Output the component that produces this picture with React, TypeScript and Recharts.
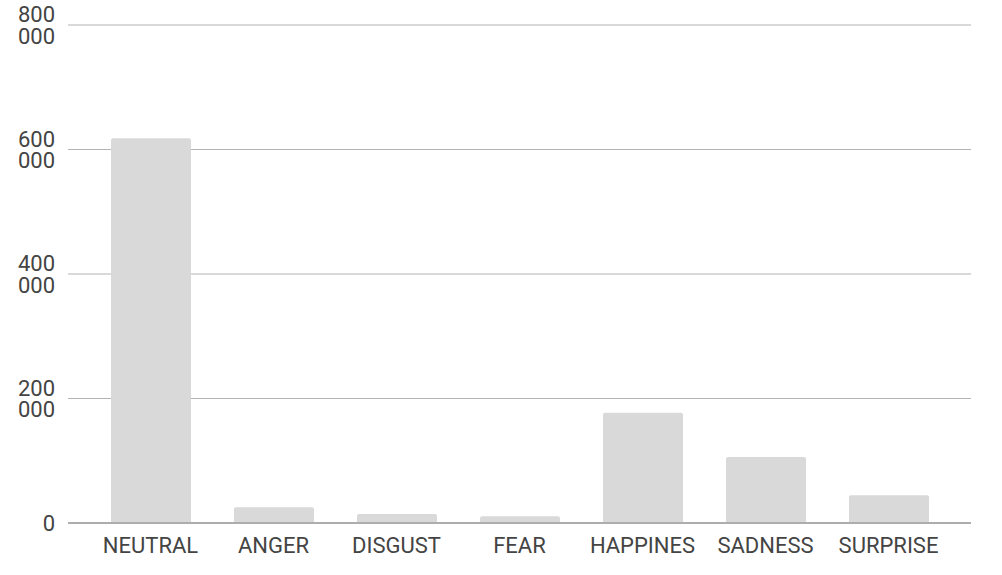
import React from "react";
import { Bar, BarChart, CartesianGrid, XAxis, YAxis } from "recharts";

const emotions = ["NEUTRAL", "ANGER", "DISGUST", "FEAR", "HAPPINES", "SADNESS", "SURPRISE"];
const counts = [618000, 25500, 14500, 11000, 177000, 106000, 44500];
const yTicks = [0, 200000, 400000, 600000, 800000];

const data = emotions.map((e, i) => ({ emotion: e, count: counts[i] }));

const FONT = "Roboto, sans-serif";

// y labels are split on two lines : "800" / "000"
const YTick = (props: any) => {
  const { x, y, payload } = props;
  const v: number = payload.value;
  if (v < 1000) {
    return (
      <text x={x} y={y} dy={8} textAnchor="end" fontSize={22} fill="#444" fontFamily={FONT}>
        {v}
      </text>
    );
  }
  const head = String(Math.floor(v / 1000));
  const tail = String(v % 1000).padStart(3, "0");
  return (
    <text x={x} y={y} textAnchor="end" fontSize={22} fill="#444" fontFamily={FONT}>
      <tspan x={x} dy={-3}>{head}</tspan>
      <tspan x={x} dy={21.5}>{tail}</tspan>
    </text>
  );
};

export default function App() {
  return (
    <div style={{ position: "absolute", left: 0, top: 0, width: 1002, height: 575, background: "#fff" }}>
      <BarChart
        width={1002}
        height={575}
        data={data}
        margin={{ top: 25, right: 31, bottom: 0, left: 0 }}
        barCategoryGap={0}
      >
        <CartesianGrid vertical={false} stroke="#b3b3b3" strokeWidth={1.2} />
        <XAxis
          dataKey="emotion"
          height={52}
          padding={{ left: 21, right: 21 }}
          tickLine={false}
          axisLine={{ stroke: "#9e9e9e", strokeWidth: 1.5 }}
          tick={{ fontSize: 22, fill: "#444", fontFamily: FONT, dy: 6 }}
          interval={0}
        />
        <YAxis
          width={68}
          domain={[0, 800000]}
          ticks={yTicks}
          tickLine={false}
          axisLine={false}
          tickMargin={7}
          tick={<YTick />}
        />
        <Bar dataKey="count" fill="#d9d9d9" barSize={80} radius={[2, 2, 0, 0]} isAnimationActive={false} />
      </BarChart>
    </div>
  );
}
